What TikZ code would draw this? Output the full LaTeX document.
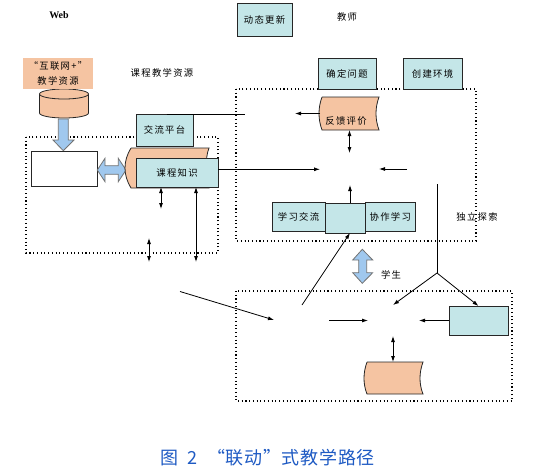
\documentclass[tikz,border=0pt]{standalone}
\usepackage{fontspec}
\usetikzlibrary{arrows.meta}
\newfontfamily\cjk[LetterSpace=14]{Noto Sans CJK SC}
\newfontfamily\cjkcap[LetterSpace=4]{Noto Sans CJK SC}
\newfontfamily\webfont{Liberation Serif}
\definecolor{boxcyan}{RGB}{196,230,232}
\definecolor{storeorange}{RGB}{245,196,162}
\definecolor{arrowblue}{RGB}{160,200,238}
\definecolor{captionblue}{RGB}{30,90,195}

\begin{document}
\begin{tikzpicture}[x=0.75pt,y=0.75pt,yscale=-1,xscale=1,
  box/.style={draw=black!85, fill=boxcyan, line width=0.6pt, inner sep=0pt, outer sep=0pt, font=\cjk\fontsize{7}{8}\selectfont},
  store/.style={draw=black!85, fill=storeorange, line width=0.6pt},
  blockarrow/.style={draw=black!55, fill=arrowblue, line width=0.6pt},
  dotbox/.style={dotted, line width=0.8pt},
  conn/.style={line width=0.6pt, -{Latex[length=4.5pt,width=3pt]}},
  biconn/.style={line width=0.6pt, {Latex[length=4.5pt,width=3pt]}-{Latex[length=4.5pt,width=3pt]}},
  lbl/.style={inner sep=0pt, font=\cjk\fontsize{7}{8}\selectfont}]
\useasboundingbox (0,0) rectangle (543,468);

%Shape: Dotted Rectangles
\draw [dotbox] (26,137) rectangle (218,253);
\draw [dotbox] (236,89) rectangle (476,241);
\draw [dotbox] (236,291) rectangle (512,401);

%Shape: Can
\draw [store] (39.5,94) -- (39.5,113) .. controls (39.5,115.8) and (50.5,118) .. (64,118) .. controls (77.5,118) and (88.5,115.8) .. (88.5,113) -- (88.5,94) ;
\draw [store] (64,94) ellipse [x radius=24.5, y radius=5] ;
\coordinate (cyl) at (64,119);

% Text Node
\node [fill=storeorange, minimum width=52.5pt, minimum height=23.25pt, inner sep=0pt, align=center, font=\cjk\fontsize{7}{11}\selectfont] (net) at (58,73.5) {“互联网+”\\教学资源};

%Shape: Block Arrow down
\draw [blockarrow] (cyl -| 58.3,0) -- (68.3,119) -- (68.3,140) -- (74,140) -- (63.3,150.7) -- (53,140) -- (58.3,140) -- cycle ;

%Shape: Rectangle
\node [draw=black!85, fill=white, line width=0.6pt, minimum width=49.5pt, minimum height=26.25pt, inner sep=0pt] (platform) at (64,168.5) {};

%Shape: Left-Right Block Arrow
\draw [blockarrow] (97.3,170) -- (105,158.3) -- (105,165.7) -- (118.3,165.7) -- (118.3,158.3) -- (126,170) -- (118.3,181.7) -- (118.3,174.3) -- (105,174.3) -- (105,181.7) -- cycle ;

%Shape: Stored Data
\draw [store] (131,148) -- (209,148) .. controls (205,158) and (205,178) .. (209,188) -- (131,188) .. controls (123,175) and (123,161) .. (131,148) ;
\draw [store] (322,97) -- (379,97) .. controls (375,108) and (375,119) .. (379,130) -- (322,130) .. controls (318,119) and (318,108) .. (322,97) ;
\draw [store] (367,362) -- (423,362) .. controls (419,373) and (419,384) .. (423,394) -- (367,394) .. controls (363,384) and (363,373) .. (367,362) ;
\node [minimum width=44.25pt, minimum height=24.75pt, inner sep=0pt, outer sep=0pt] (fkpj) at (349.5,113.5) {};
\node [minimum width=42pt, minimum height=24pt, inner sep=0pt, outer sep=0pt] (store2) at (393,378) {};

%Shape: Rectangles
\node [box, minimum width=41.25pt, minimum height=24.75pt] (dtgx) at (264.5,19.5) {动态更新};
\node [box, minimum width=43.5pt, minimum height=23.25pt] (qdwt) at (347,73.5) {确定问题};
\node [box, minimum width=44.25pt, minimum height=23.25pt] (cjhj) at (432.5,73.5) {创建环境};
\node [box, minimum width=42.75pt, minimum height=24pt] (jlpt) at (164.5,130) {交流平台};
\node [box, minimum width=61.5pt, minimum height=21.75pt] (kczs) at (177,172.5) {课程知识};
\node [box, minimum width=39.75pt, minimum height=21.75pt] (xxjl) at (298.5,216.5) {学习交流};
\node [box, minimum width=30pt, minimum height=22.5pt] (mid) at (345.3,218) {};
\node [box, minimum width=37.5pt, minimum height=21.75pt] (xzxx) at (390.3,216.5) {协作学习};
\node [box, minimum width=44.25pt, minimum height=21.75pt] (rbox) at (478.5,320.5) {};

% Text Node
\node [font=\webfont\bfseries\fontsize{7.5}{9}\selectfont, inner sep=0pt] (web) at (59,15) {Web};
\node [lbl] (teacher) at (347,17) {教师};
\node [lbl] (resource) at (162,73) {课程教学资源};
\node [lbl] (fkpjtext) at (346,121) {反馈评价};
\node [lbl] (explore) at (477,217) {独立探索};
\node [lbl] (student) at (391,275) {学生};

%Shape: Up-Down Block Arrow
\draw [blockarrow] (362.3,249.3) -- (372.7,260) -- (366.7,260) -- (366.7,272.7) -- (372.7,272.7) -- (362.3,283.3) -- (352.7,272.7) -- (358.7,272.7) -- (358.7,260) -- (352.7,260) -- cycle ;

%Straight Lines
\coordinate (c1) at (320,169.3);
\coordinate (c2) at (295,113.5);
\coordinate (c3) at (349.5,153);
\coordinate (c4) at (407,169);
\coordinate (c5) at (379,169);
\coordinate (c6) at (350,185);
\coordinate (c7) at (302,305);
\coordinate (c9) at (180,291.5);
\coordinate (c10) at (274,320);
\coordinate (c11) at (329,320.5);
\coordinate (c12) at (368,320.5);
\coordinate (c13) at (419,320.5);
\coordinate (c14) at (393,336);
\coordinate (c15) at (437,184);
\coordinate (c16) at (437,273);
\coordinate (c17) at (393,305);
\coordinate (c18) at (161,209);
\coordinate (c19) at (196,262);
\coordinate (c20) at (149,238);
\coordinate (c21) at (149,262);
\coordinate (jlptR) at (245,114);

\draw [line width=0.6pt] ([xshift=1.5pt]jlpt.north) -- (jlptR) ;
\draw [conn] (kczs.east |- c1) -- (c1) ;
\draw [conn] (fkpj.west) -- (c2) ;
\draw [biconn] (fkpj.south) -- (c3) ;
\draw [conn] (c4) -- (c5) ;
\draw [conn] (mid.north -| c6) -- (c6) ;
\draw [conn] (c7) -- (mid.south -| c6) ;
\draw [conn] (c9) -- (c10) ;
\draw [conn] (c11) -- (c12) ;
\draw [conn] (rbox.west) -- (c13) ;
\draw [biconn] (c14) -- (store2.north) ;
\draw [line width=0.6pt] (c15) -- (c16) ;
\draw [conn] (c16) -- (c17) ;
\draw [conn] (c16) -- (rbox.north) ;
\draw [biconn] (kczs.south -| c18) -- (c18) ;
\draw [biconn] (kczs.south -| c19) -- (c19) ;
\draw [biconn] (c20) -- (c21) ;

% Text Node
\node [font=\cjkcap\fontsize{13.5}{15}\selectfont, text=captionblue, inner sep=0pt] (caption) at (267.5,458) {图\ \ 2\ \ “联动”式教学路径};

\end{tikzpicture}
\end{document}
